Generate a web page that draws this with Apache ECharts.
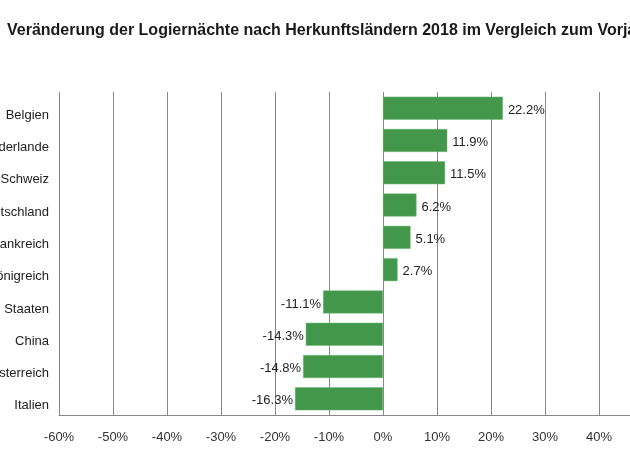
<!DOCTYPE html>
<html>
<head>
<meta charset="utf-8">
<script src="https://cdn.jsdelivr.net/npm/echarts@6/dist/echarts.min.js"></script>
<style>
  html, body { margin: 0; padding: 0; background: #fff; overflow: hidden; }
  #chart { width: 700px; height: 470px; }
</style>
</head>
<body>
<div id="chart"></div>
<script>
var countries = ['Belgien', 'Niederlande', 'Schweiz', 'Deutschland', 'Frankreich',
  'Vereinigtes Königreich', 'Vereinigte Staaten', 'China', 'Österreich', 'Italien'];
var changes = [22.2, 11.9, 11.5, 6.2, 5.1, 2.7, -11.1, -14.3, -14.8, -16.3];
var titleText = 'Veränderung der Logiernächte nach Herkunftsländern 2018 im Vergleich zum Vorjahr';
var BAR_COLOR = '#43974b';
var FONT = 'Liberation Sans, Arial, sans-serif';

var chart = echarts.init(document.getElementById('chart'));

var option = {
  animation: false,
  title: {
    text: titleText,
    left: 7,
    top: 23,
    padding: 0,
    textStyle: {fontFamily: FONT, fontSize: 16, fontWeight: 'bold', color: '#1a1a1a'}
  },
  grid: {left: 59, right: 47, top: 92, bottom: 55, containLabel: false, outerBoundsMode: 'none'},
  xAxis: {
    type: 'value',
    min: -60,
    max: 50,
    interval: 10,
    axisLine: {show: true, lineStyle: {color: '#888', width: 1}},
    axisTick: {show: false},
    splitLine: {show: true, lineStyle: {color: '#888', width: 1}},
    axisLabel: {
      formatter: '{value}%',
      margin: 16,
      fontFamily: FONT,
      fontSize: 13,
      color: '#333'
    }
  },
  yAxis: {
    type: 'category',
    inverse: true,
    data: countries,
    axisLine: {show: false},
    axisTick: {show: false},
    axisLabel: {margin: 10, verticalAlign: 'top', lineHeight: 14, fontFamily: FONT, fontSize: 13, color: '#222'}
  },
  series: [{
    type: 'bar',
    barWidth: 23,
    itemStyle: {color: BAR_COLOR, borderColor: '#6fb876', borderWidth: 0.5},
    data: changes.map(function(v){
      return {
        value: v,
        label: {position: v < 0 ? 'left' : 'right', distance: v < 0 ? 2 : 5}
      }
    }),
    label: {
      show: true,
      formatter: function(p){ return p.value.toFixed(1) + '%' },
      offset: [0, 2],
      fontFamily: FONT,
      fontSize: 13,
      color: '#222'
    }
  }]
};

chart.setOption(option);
</script>
</body>
</html>
